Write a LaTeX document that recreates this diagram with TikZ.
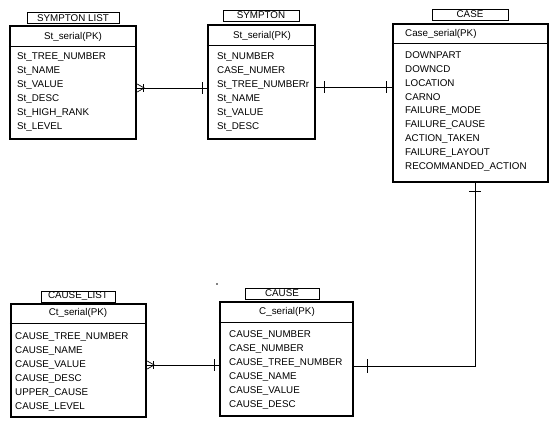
\documentclass[tikz,border=0pt]{standalone}
\usepackage{fontspec}
\setmainfont{Liberation Sans}
\begin{document}
\begin{tikzpicture}[x=1pt,y=-1pt,
  entity/.style={draw, line width=2.4pt, inner sep=0pt},
  tag/.style={draw, line width=0.7pt, inner sep=0pt, minimum height=11pt,
    font=\fontsize{9.8}{11}\selectfont},
  keyfield/.style={inner sep=0pt, font=\fontsize{9.8}{11}\selectfont},
  field/.style={anchor=west, inner sep=0pt, font=\fontsize{9.8}{11}\selectfont},
  rule/.style={line width=0.8pt},
  rel/.style={line width=0.7pt},
]
\useasboundingbox (0,0) rectangle (550,421);

% ---------- SYMPTON LIST ----------
\node[entity, minimum width=126pt, minimum height=113pt] (sl) at (73,82.5) {};
\node[tag, minimum width=92pt] (slt) at (73,18) {SYMPTON LIST};
\draw[rule] (sl.west |- 0,46) -- (sl.east |- 0,46);
\node[keyfield] (slk) at (73,37) {St\_serial(PK)};
\foreach \t [count=\i] in {St\_TREE\_NUMBER, St\_NAME, St\_VALUE, St\_DESC, St\_HIGH\_RANK, St\_LEVEL}
  \node[field] (sl\i) at (17,43+14*\i) {\t};

% ---------- SYMPTON ----------
\node[entity, minimum width=107pt, minimum height=114pt] (sy) at (261.5,82) {};
\node[tag, minimum width=76pt] (syt) at (261,15.5) {SYMPTON};
\draw[rule] (sy.west |- 0,45) -- (sy.east |- 0,45);
\node[keyfield] (syk) at (262,36) {St\_serial(PK)};
\foreach \t [count=\i] in {St\_NUMBER, CASE\_NUMER, St\_TREE\_NUMBERr, St\_NAME, St\_VALUE, St\_DESC}
  \node[field] (sy\i) at (217,43+14*\i) {\t};

% ---------- CASE ----------
\node[entity, minimum width=155pt, minimum height=158pt] (cs) at (470.5,103) {};
\node[tag, minimum width=76pt] (cst) at (470,14.5) {CASE};
\draw[rule] (cs.west |- 0,43) -- (cs.east |- 0,43);
\node[keyfield, anchor=west] (csk) at (405,34) {Case\_serial(PK)};
\foreach \t [count=\i] in {DOWNPART, DOWNCD, LOCATION, CARNO, FAILURE\_MODE, FAILURE\_CAUSE, ACTION\_TAKEN, FAILURE\_LAYOUT, RECOMMANDED\_ACTION}
  \node[field] (cs\i) at (405,41+14*\i) {\t};

% ---------- CAUSE_LIST ----------
\node[entity, minimum width=135pt, minimum height=113pt] (cl) at (78.5,360.5) {};
\node[tag, minimum width=74pt] (clt) at (78,296.5) {CAUSE\_LIST};
\draw[rule] (cl.west |- 0,323) -- (cl.east |- 0,323);
\node[keyfield] (clk) at (78,313) {Ct\_serial(PK)};
\foreach \t [count=\i] in {CAUSE\_TREE\_NUMBER, CAUSE\_NAME, CAUSE\_VALUE, CAUSE\_DESC, UPPER\_CAUSE, CAUSE\_LEVEL}
  \node[field] (cl\i) at (15,323+14*\i) {\t};

% ---------- CAUSE ----------
\node[entity, minimum width=133pt, minimum height=114pt] (ca) at (286.5,359) {};
\node[tag, minimum width=74pt] (cat) at (282,293.5) {CAUSE};
\draw[rule] (ca.west |- 0,322) -- (ca.east |- 0,322);
\node[keyfield] (cak) at (287,312) {C\_serial(PK)};
\foreach \t [count=\i] in {CAUSE\_NUMBER, CASE\_NUMBER, CAUSE\_TREE\_NUMBER, CAUSE\_NAME, CAUSE\_VALUE, CAUSE\_DESC}
  \node[field] (ca\i) at (229,321+14*\i) {\t};

% ---------- relationships ----------
% SYMPTON LIST (many) -- SYMPTON (one)
\draw[rel] (sl.east |- 0,88) -- (sy.west |- 0,88);
\draw[rel] (sl.east |- 0,84) -- ++(7,4) -- (sl.east |- 0,92);
\draw[rel] (sl.east |- 0,84) ++(6,0) -- ++(0,8);
\draw[rel] (sy.west |- 0,88) ++(-4,-6) -- ++(0,12);

% SYMPTON (one) -- CASE (one)
\draw[rel] (sy.east |- 0,87) -- (cs.west |- 0,87);
\draw[rel] (sy.east |- 0,87) ++(8,-6) -- ++(0,12);
\draw[rel] (cs.west |- 0,87) ++(-5,-6) -- ++(0,12);

% CASE (one) -- CAUSE (one)
\draw[rel] (cs.south -| 475,0) |- (ca.east |- 0,366);
\draw[rel] (cs.south -| 475,0) ++(-6,8) -- ++(12,0);
\draw[rel] (ca.east |- 0,366) ++(13,-7) -- ++(0,14);

% CAUSE_LIST (many) -- CAUSE (one)
\draw[rel] (cl.east |- 0,365) -- (ca.west |- 0,365);
\draw[rel] (cl.east |- 0,361) -- ++(7,4) -- (cl.east |- 0,369);
\draw[rel] (cl.east |- 0,361) ++(6,0) -- ++(0,8);
\draw[rel] (ca.west |- 0,365) ++(-4,-6) -- ++(0,12);

% stray ink dot
\fill (217,284) circle (0.8);
\end{tikzpicture}
\end{document}
